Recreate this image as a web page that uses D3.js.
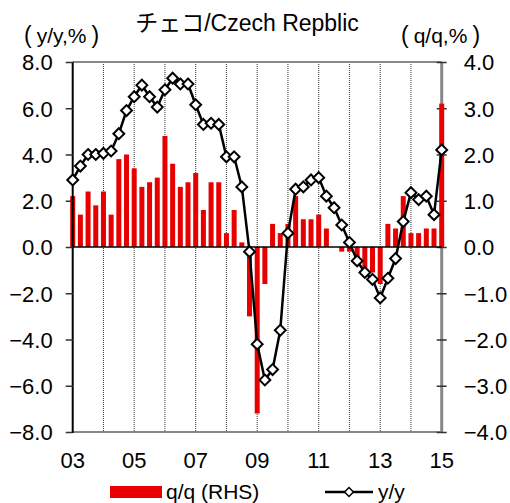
<!DOCTYPE html>
<html>
<head>
<meta charset="utf-8">
<script src="https://cdnjs.cloudflare.com/ajax/libs/d3/7.8.5/d3.min.js"></script>
<style>
  body { margin: 0; background: #fff; }
  text { font-family: "Liberation Sans", Arial, "Noto Sans CJK JP", sans-serif; fill: #000; }
</style>
</head>
<body>
<div id="chart"></div>
<script>
      // data (2003Q1 .. 2015Q1)
      var years = ["03","04","05","06","07","08","09","10","11","12","13","14","15"];
      var yearLabels = ["03","05","07","09","11","13","15"];
      var yoy = [2.9, 3.5, 4.0, 4.0,   4.05, 4.15, 4.9, 5.9,   6.5, 7.0, 6.5, 6.05,   6.8, 7.3, 7.05, 7.05,
                 6.15, 5.3, 5.35, 5.3, 3.9, 3.9, 2.6, -0.2,   -4.2, -5.75, -5.3, -3.6, 0.6, 2.5, 2.6, 2.9,
                 3.0, 2.2, 1.7, 0.95,  0.2, -0.6, -1.1, -1.4, -2.2, -1.35, -0.5, 1.1, 2.35, 2.05, 2.2, 1.4,
                 4.2];
      var qoq = [1.1, 0.7, 1.2, 0.9,   1.2, 0.7, 1.9, 2.0,   1.7, 1.3, 1.4, 1.5,   2.4, 1.8, 1.3, 1.4,
                 1.6, 0.8, 1.4, 1.4,   0.3, 0.8, 0.1, -1.5,  -3.6, -0.8, 0.5, 0.3,  0.5, 1.1, 0.6, 0.6,
                 0.7, 0.4, 0.0, -0.1,  -0.1, -0.3, -0.45, -0.55, -0.8, 0.5, 0.4, 1.1, 0.3, 0.3, 0.4, 0.4,
                 3.1];
      var leftTicks = [-8, -6, -4, -2, 0, 2, 4, 6, 8];
      var rightTicks = [-4, -3, -2, -1, 0, 1, 2, 3, 4];

      // quarter categories, last one is 15Q1
      var quarters = [];
      years.forEach(function(y, i) {
        var n = (i == years.length - 1) ? 1 : 4;
        for (var q = 1; q <= n; q++) quarters.push(y + "Q" + q);
      });

      var width = 510, height = 503,
          plot = { left: 72.7, right: 441.7, top: 62, bottom: 432 },
          red = "#e60000";

      var svg = d3.select("#chart").append("svg")
          .attr("width", width)
          .attr("height", height);

      var x = d3.scalePoint().domain(quarters).range([plot.left, plot.right]).padding(0);
      var yL = d3.scaleLinear().domain([-8, 8]).range([plot.bottom, plot.top]);
      var yR = d3.scaleLinear().domain([-4, 4]).range([plot.bottom, plot.top]);
      var barW = 5;

      // dotted year lines
      svg.selectAll(".yearline")
          .data(quarters.filter(function(d, i) { return d.slice(2) == "Q1" && i > 0 && i < quarters.length - 1; }))
          .enter().append("line")
            .attr("x1", function(d) { return x(d); })
            .attr("x2", function(d) { return x(d); })
            .attr("y1", plot.top)
            .attr("y2", plot.bottom)
            .attr("stroke", "#333")
            .attr("stroke-width", 1)
            .attr("stroke-dasharray", "1,1");

      // top / bottom border
      svg.append("line").attr("x1", plot.left).attr("x2", plot.right).attr("y1", plot.top).attr("y2", plot.top)
          .attr("stroke", "#888").attr("stroke-width", 2);
      svg.append("line").attr("x1", plot.left).attr("x2", plot.right).attr("y1", plot.bottom).attr("y2", plot.bottom)
          .attr("stroke", "#888").attr("stroke-width", 2);

      // right axis (drawn under the bars, last bar sits on it)
      var rightAxis = d3.axisRight(yR).tickValues(rightTicks).tickSize(5).tickFormat(d3.format(".1f"));
      var gr = svg.append("g").attr("transform", "translate(" + plot.right + ",0)").call(rightAxis);
      gr.select(".domain").attr("stroke", "#888").attr("stroke-width", 3).attr("d", "M0," + plot.top + "V" + plot.bottom);
      gr.selectAll(".tick line").attr("x1", -5).attr("stroke", "#333").attr("stroke-width", 1.5);
      gr.selectAll(".tick text").attr("x", 22).style("font-size", "22px").style("font-family", null)
          .attr("dy", "0.36em");

      // q/q bars on right scale
      svg.selectAll(".bar")
          .data(qoq)
          .enter().append("rect")
            .attr("class", "bar")
            .attr("x", function(d, i) { return x(quarters[i]) - barW / 2; })
            .attr("y", function(d) { return yR(Math.max(0, d)); })
            .attr("width", barW)
            .attr("height", function(d) { return Math.abs(yR(d) - yR(0)); })
            .attr("fill", red);

      // zero line
      svg.append("line").attr("x1", plot.left).attr("x2", plot.right).attr("y1", yL(0)).attr("y2", yL(0))
          .attr("stroke", "#000").attr("stroke-width", 1.5);

      // left axis
      var leftAxis = d3.axisLeft(yL).tickValues(leftTicks).tickSize(7).tickFormat(d3.format(".1f"));
      var gl = svg.append("g").attr("transform", "translate(" + plot.left + ",0)").call(leftAxis);
      gl.select(".domain").attr("stroke", "#000").attr("stroke-width", 2).attr("d", "M0," + plot.top + "V" + (plot.bottom + 1));
      gl.selectAll(".tick line").attr("stroke", "#333").attr("stroke-width", 1.5);
      gl.selectAll(".tick text").attr("x", -20).style("font-size", "22px").style("font-family", null)
          .attr("dy", "0.36em");
      svg.selectAll(".domain").attr("fill", "none");

      // x labels
      svg.selectAll(".xlabel")
          .data(yearLabels)
          .enter().append("text")
            .text(function(d) { return d; })
            .attr("x", function(d) { return x(d + "Q1"); })
            .attr("y", 468)
            .style("text-anchor", "middle")
            .style("font-size", "22px");

      // y/y line with diamonds
      var line = d3.line()
          .x(function(d, i) { return x(quarters[i]); })
          .y(function(d) { return yL(d); });
      svg.append("path")
          .datum(yoy)
          .attr("d", line)
          .attr("fill", "none")
          .attr("stroke", "#000")
          .attr("stroke-width", 2.5);

      var diamond = d3.symbol().type(d3.symbolDiamond2).size(75);
      svg.selectAll(".pt")
          .data(yoy)
          .enter().append("path")
            .attr("d", diamond)
            .attr("transform", function(d, i) { return "translate(" + x(quarters[i]) + "," + yL(d) + ")"; })
            .attr("fill", "#fff")
            .attr("stroke", "#000")
            .attr("stroke-width", 2);

      // titles
      svg.append("text").text("チェコ/Czech Repblic")
          .attr("x", 247).attr("y", 31).style("text-anchor", "middle").style("font-size", "23px");

      function unitLabel(x0, s) {  // wide parens like the original
        var t = svg.append("text").attr("x", x0).attr("y", 43).style("font-size", "21px");
        t.append("tspan").text("(").style("font-size", "23px");
        t.append("tspan").attr("dx", 5).text(s);
        t.append("tspan").attr("dx", 5).text(")").style("font-size", "23px");
      }
      unitLabel(24, "y/y,%");
      unitLabel(401, "q/q,%");

      // legend
      svg.append("rect").attr("x", 110).attr("y", 486).attr("width", 52).attr("height", 12).attr("fill", red);
      svg.append("text").text("q/q (RHS)").attr("x", 166).attr("y", 499).style("font-size", "21px");
      svg.append("line").attr("x1", 325).attr("x2", 373).attr("y1", 492).attr("y2", 492)
          .attr("stroke", "#000").attr("stroke-width", 2.5);
      svg.append("path").attr("d", d3.symbol().type(d3.symbolDiamond2).size(50))
          .attr("transform", "translate(349,492)")
          .attr("fill", "#fff").attr("stroke", "#000").attr("stroke-width", 1.5);
      svg.append("text").text("y/y").attr("x", 378).attr("y", 499).style("font-size", "21px");
</script>
</body>
</html>
